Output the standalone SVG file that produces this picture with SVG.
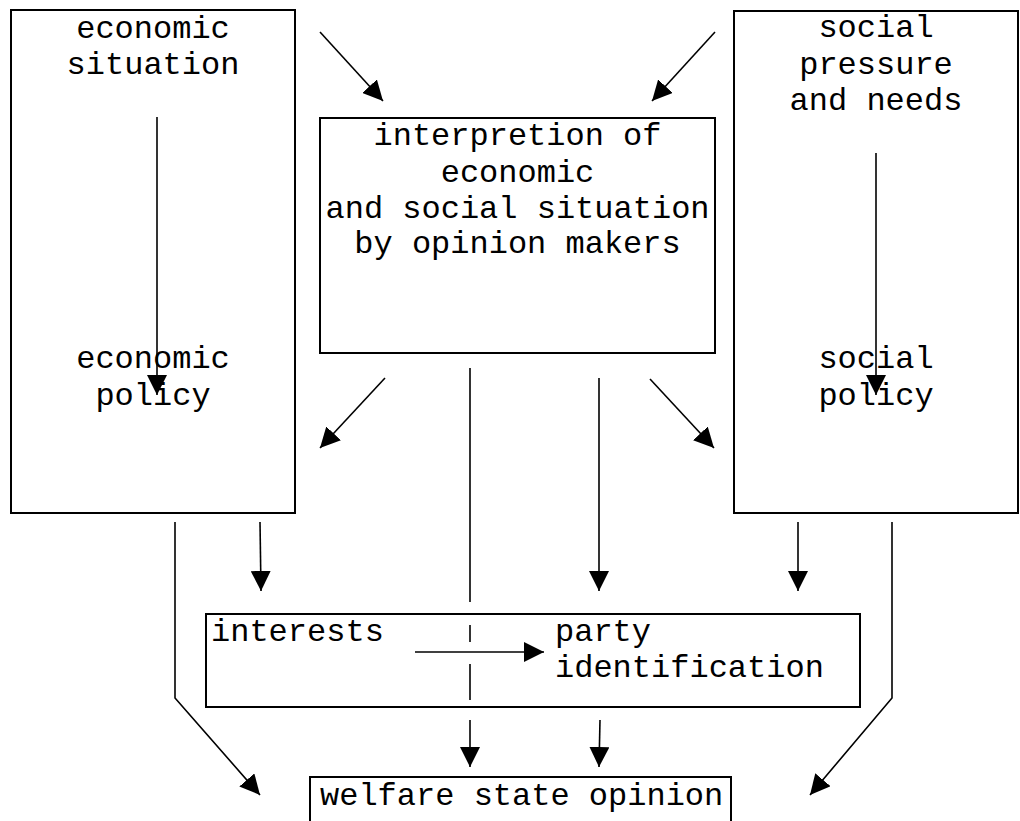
<svg xmlns="http://www.w3.org/2000/svg" width="1020" height="821" viewBox="0 0 1020 821">
<defs>
<marker id="ah" markerUnits="userSpaceOnUse" markerWidth="20" markerHeight="20" refX="20" refY="10" orient="auto">
<path d="M0,0 L20,10 L0,20 z" fill="#000"/>
</marker>
<style>
.box{fill:#fff;stroke:#000;stroke-width:2}
.t{font-family:"Liberation Mono","Courier New",monospace;font-size:32px;fill:#000}
.m{text-anchor:middle}
.c{fill:none;stroke:#000;stroke-width:1.6}
.a{marker-end:url(#ah)}
</style>
</defs>
<rect width="1020" height="821" fill="#fff"/>
<g id="economic-box">
<rect class="box" x="11" y="10" width="284" height="503"/>
<text class="t m" x="153" y="38">economic</text>
<text class="t m" x="153" y="74">situation</text>
<text class="t m" x="153" y="368">economic</text>
<text class="t m" x="153" y="405">policy</text>
</g>
<g id="social-box">
<rect class="box" x="734" y="11" width="284" height="502"/>
<text class="t m" x="876" y="37">social</text>
<text class="t m" x="876" y="74">pressure</text>
<text class="t m" x="876" y="110">and needs</text>
<text class="t m" x="876" y="368">social</text>
<text class="t m" x="876" y="405">policy</text>
</g>
<g id="interpretation-box">
<rect class="box" x="320" y="118" width="395" height="235"/>
<text class="t m" x="517.5" y="145">interpretion of</text>
<text class="t m" x="517.5" y="182">economic</text>
<text class="t m" x="517.5" y="218">and social situation</text>
<text class="t m" x="517.5" y="253">by opinion makers</text>
</g>
<g id="interests-box">
<rect class="box" x="206" y="614" width="654" height="93"/>
<text class="t" x="211" y="641">interests</text>
<text class="t" x="555" y="641">party</text>
<text class="t" x="555" y="677">identification</text>
</g>
<g id="welfare-box">
<rect class="box" x="310" y="777" width="421" height="70"/>
<text class="t" x="320" y="805">welfare state opinion</text>
</g>
<g id="connectors">
<line class="c a" x1="320" y1="32" x2="383" y2="101"/>
<line class="c a" x1="715" y1="32" x2="652" y2="101"/>
<line class="c a" x1="157" y1="117" x2="157" y2="395"/>
<line class="c a" x1="876" y1="153" x2="876" y2="395"/>
<line class="c a" x1="385" y1="378" x2="320" y2="448"/>
<line class="c a" x1="650" y1="379" x2="714" y2="448"/>
<line class="c" x1="470" y1="368" x2="470" y2="602"/>
<line class="c" x1="470" y1="625" x2="470" y2="642"/>
<line class="c" x1="470" y1="664" x2="470" y2="700"/>
<line class="c a" x1="470" y1="720" x2="470" y2="767"/>
<line class="c a" x1="415" y1="652" x2="544" y2="652"/>
<line class="c a" x1="599" y1="378" x2="599" y2="591"/>
<line class="c a" x1="600" y1="720" x2="599" y2="767"/>
<line class="c a" x1="260" y1="522" x2="261" y2="591"/>
<line class="c a" x1="798" y1="522" x2="798" y2="591"/>
<polyline class="c a" points="175,522 175,698 260,795"/>
<polyline class="c a" points="892,522 892,698 810,795"/>
</g>
</svg>
